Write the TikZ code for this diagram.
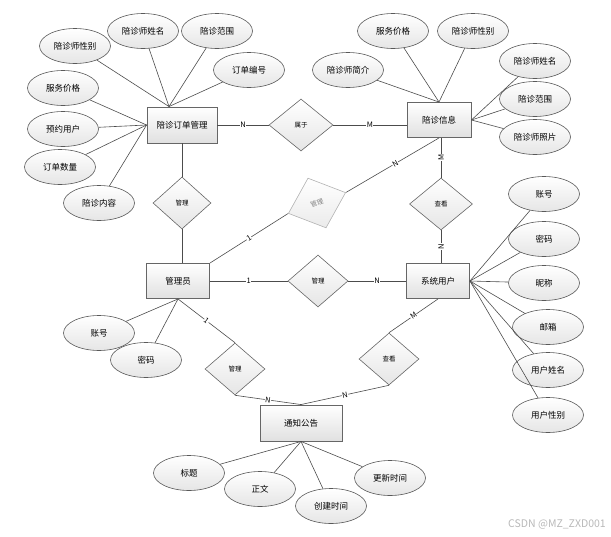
\documentclass[tikz,border=0pt]{standalone}
\usepackage{fontspec}
\setmainfont{Noto Sans CJK SC}
\usetikzlibrary{shapes.geometric,calc}
\begin{document}
\begin{tikzpicture}[x=1pt,y=-1pt,
  ent/.style={draw=black!60, line width=0.9pt, top color=white, bottom color=black!12,
    minimum height=35pt, inner sep=0pt, font=\fontsize{8.5}{10}\selectfont},
  attr/.style={ellipse, draw=black!65, line width=0.6pt, top color=white, bottom color=black!10,
    minimum width=71pt, minimum height=35pt, inner sep=0pt, font=\fontsize{8.5}{10}\selectfont},
  rel/.style={diamond, draw=black!60, line width=0.6pt, top color=white, bottom color=black!10,
    minimum width=60pt, minimum height=52pt, inner sep=0pt, font=\fontsize{6.5}{7}\selectfont},
  faint/.style={draw=black!30, text=black!50, top color=white, bottom color=black!8},
  ln/.style={draw=black!70, line width=0.6pt},
  lab/.style={fill=white, inner sep=0.5pt, font=\fontsize{7.5}{8}\selectfont}
]
\useasboundingbox (0,0) rectangle (611,536);

% entities
\node[ent, minimum width=70pt, minimum height=36pt] (o) at (182,125) {陪诊订单管理};
\node[ent, minimum width=64pt] (i) at (439,120) {陪诊信息};
\node[ent, minimum width=63pt] (g) at (178,281) {管理员};
\node[ent, minimum width=63pt] (s) at (438,281) {系统用户};
\node[ent, minimum width=82pt, minimum height=36pt] (t) at (301,423) {通知公告};

% relations
\node[rel, minimum width=64pt] (r1) at (301,125) {属于};
\node[rel, minimum width=58pt] (r2) at (182,203) {管理};
\node[rel, minimum width=63pt] (r3) at (441,204) {查看};
\node[rel, faint, rotate=20, minimum width=61pt, minimum height=53pt] (r4) at (317,203) {管理};
\node[rel] (r5) at (318,281) {管理};
\node[rel] (r6) at (235,369) {管理};
\node[rel] (r7) at (389,359) {查看};

% relation connectors
\draw[ln] (o.east) -- node[lab]{N} (r1.west);
\draw[ln] (r1.east) -- node[lab]{M} (r1.east -| i.west);
\draw[ln] (o.south) -- (r2.north);
\draw[ln] (r2.south) -- (r2.south |- g.north);
\draw[ln] (i.south -| r3.north) -- node[lab, rotate=90]{M} (r3.north);
\draw[ln] (r3.south) -- node[lab, rotate=90]{N} (r3.south |- s.north);
\draw[ln] (i.south) -- node[lab, sloped, pos=0.47]{N} (r4.east);
\draw[ln] (r4.west) -- node[lab, sloped]{1} (g.north east);
\draw[ln] (g.east) -- node[lab]{1} (r5.west);
\draw[ln] (r5.east) -- node[lab]{N} (s.west);
\draw[ln] (g.south) -- node[lab, sloped]{1} (r6.north);
\draw[ln] (r6.south) -- node[lab, sloped]{N} (t.north);
\draw[ln] (s.south) -- node[lab, sloped]{M} (r7.north);
\draw[ln] (r7.south) -- node[lab, sloped]{N} (t.north);

% attributes of 陪诊订单管理
\node[attr] (o1) at (75,46) {陪诊师性别};
\node[attr] (o2) at (143,31) {陪诊师姓名};
\node[attr] (o3) at (217,31) {陪诊范围};
\node[attr] (o4) at (249,70) {订单编号};
\node[attr] (o5) at (63,88) {服务价格};
\node[attr] (o6) at (63,129) {预约用户};
\node[attr] (o7) at (60,167) {订单数量};
\node[attr] (o8) at (99,203) {陪诊内容};
\coordinate (ot) at ([xshift=-13pt]o.north);
\foreach \a in {o1,o2,o3,o4} \draw[ln] (ot) -- (\a);
\foreach \a in {o5,o6,o7,o8} \draw[ln] (o.west) -- (\a);

% attributes of 陪诊信息
\node[attr] (i1) at (393,31) {服务价格};
\node[attr] (i2) at (473,31) {陪诊师性别};
\node[attr] (i3) at (348,70) {陪诊师简介};
\node[attr] (i4) at (535,61) {陪诊师姓名};
\node[attr] (i5) at (535,99) {陪诊范围};
\node[attr] (i6) at (535,137) {陪诊师照片};
\foreach \a in {i1,i2,i3} \draw[ln] (i.north) -- (\a);
\foreach \a in {i4,i5,i6} \draw[ln] (i.east) -- (\a);

% attributes of 系统用户
\node[attr] (s1) at (544,194) {账号};
\node[attr] (s2) at (544,239) {密码};
\node[attr] (s3) at (544,283) {昵称};
\node[attr] (s4) at (548,327) {邮箱};
\node[attr] (s5) at (548,370) {用户姓名};
\node[attr] (s6) at (548,415) {用户性别};
\foreach \a in {s1,s2,s3,s4,s5,s6} \draw[ln] (s.east) -- (\a);

% attributes of 管理员
\node[attr] (g1) at (99,333) {账号};
\node[attr] (g2) at (146,360) {密码};
\foreach \a in {g1,g2} \draw[ln] (g.south) -- (\a);

% attributes of 通知公告
\node[attr] (t1) at (189,473) {标题};
\node[attr] (t2) at (260,489) {正文};
\node[attr] (t3) at (331,506) {创建时间};
\node[attr] (t4) at (390,478) {更新时间};
\foreach \a in {t1,t2,t3,t4} \draw[ln] (t.south) -- (\a);

% watermark
\node[text=black!28, font=\fontsize{10.5}{12}\selectfont, anchor=east, inner sep=0pt] (wm) at (606,524) {CSDN @MZ\_ZXD001};
\end{tikzpicture}
\end{document}
